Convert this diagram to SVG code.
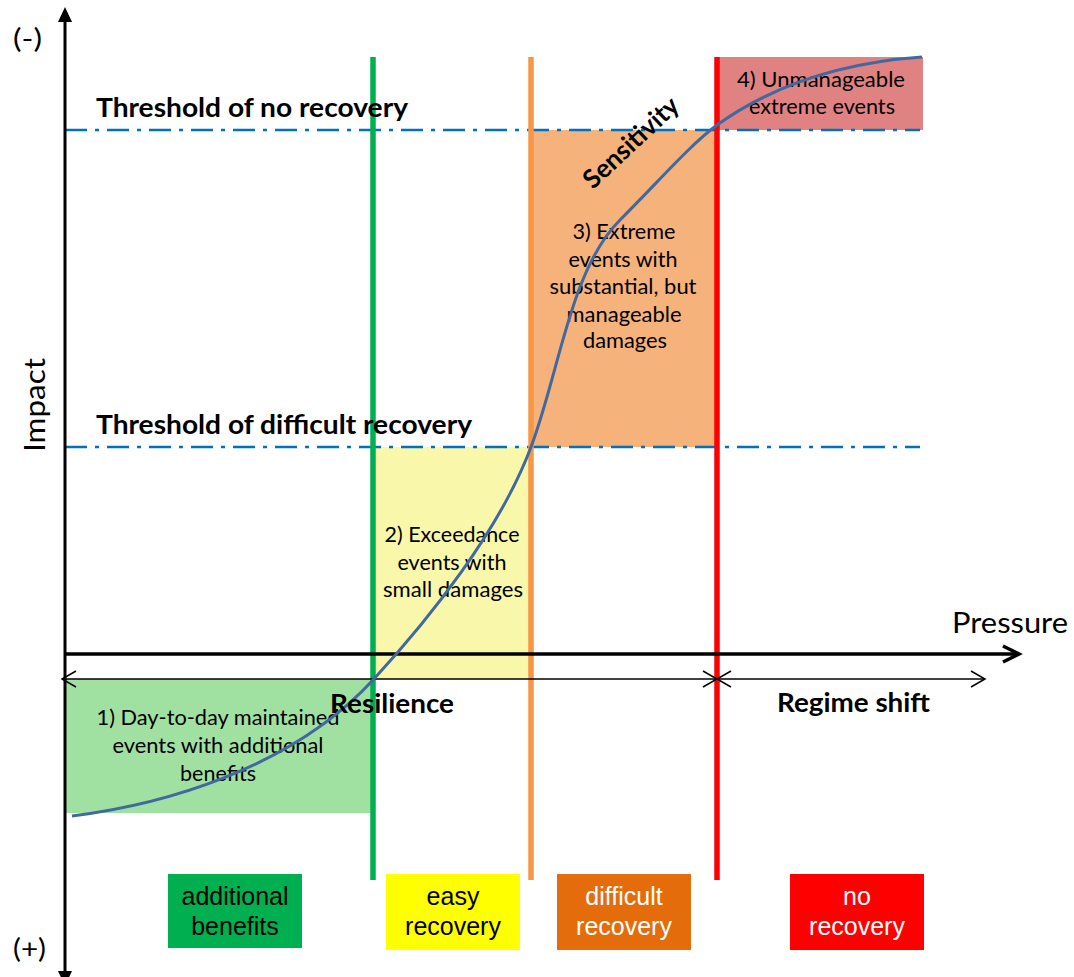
<svg xmlns="http://www.w3.org/2000/svg" width="1074" height="977" viewBox="0 0 1074 977">
<defs>
<style>
.t{font-family:Lato,"Open Sans","Liberation Sans",sans-serif;fill:#000}
.b{font-weight:bold;font-size:26px}
.r{font-size:21px;text-anchor:middle}
.box{font-family:"Liberation Sans",Arial,sans-serif;font-size:25px;text-anchor:middle}
.thr{stroke:#0070C0;stroke-width:2.5;stroke-dasharray:22 8 4 8;fill:none}
.vl{stroke-width:5.5;fill:none}
.ax{stroke:#000;fill:none}
</style>
</defs>
<rect width="1074" height="977" fill="#fff"/>
<g id="regions">
<rect id="region1" x="65" y="679" width="308" height="134" fill="#A0E0A0"/>
<rect id="region2" x="373" y="447" width="158" height="232" fill="#F9F7AA"/>
<rect id="region3" x="531" y="130" width="186" height="317" fill="#F6B27B"/>
<rect id="region4" x="717" y="57" width="206" height="73" fill="#E08282"/>
</g>
<g id="thresholds">
<line class="thr" x1="65" y1="130" x2="920" y2="130"/>
<line class="thr" x1="65" y1="447" x2="920" y2="447"/>
</g>
<g id="dividers">
<line class="vl" x1="373" y1="57" x2="373" y2="880" stroke="#00B050"/>
<line class="vl" x1="531" y1="57" x2="531" y2="880" stroke="#F79646"/>
<line class="vl" x1="717" y1="57" x2="717" y2="880" stroke="#FF0000"/>
</g>
<g id="region-labels" class="t">
<text class="r" x="821" y="87" textLength="168" lengthAdjust="spacingAndGlyphs">4) Unmanageable</text>
<text class="r" x="822" y="114" textLength="146" lengthAdjust="spacingAndGlyphs">extreme events</text>
<text class="r" x="624" y="239" textLength="103" lengthAdjust="spacingAndGlyphs">3) Extreme</text>
<text class="r" x="623" y="267" textLength="109" lengthAdjust="spacingAndGlyphs">events with</text>
<text class="r" x="623" y="294" textLength="147" lengthAdjust="spacingAndGlyphs">substantial, but</text>
<text class="r" x="624" y="322" textLength="115" lengthAdjust="spacingAndGlyphs">manageable</text>
<text class="r" x="625" y="348" textLength="84" lengthAdjust="spacingAndGlyphs">damages</text>
<text class="r" x="452" y="542" textLength="135" lengthAdjust="spacingAndGlyphs">2) Exceedance</text>
<text class="r" x="452" y="570" textLength="109" lengthAdjust="spacingAndGlyphs">events with</text>
<text class="r" x="453" y="597" textLength="140" lengthAdjust="spacingAndGlyphs">small damages</text>
<text class="r" x="218" y="725" textLength="243" lengthAdjust="spacingAndGlyphs">1) Day-to-day maintained</text>
<text class="r" x="218" y="753" textLength="211" lengthAdjust="spacingAndGlyphs">events with additional</text>
<text class="r" x="218" y="781" textLength="76" lengthAdjust="spacingAndGlyphs">benefits</text>
</g>
<g id="connectors">
<line class="ax" x1="65" y1="20" x2="65" y2="972" stroke-width="3"/>
<path d="M58,22 L65,7 L72,22 Z" fill="#000"/>
<path d="M58,971 L65,986 L72,971 Z" fill="#000"/>
<line class="ax" x1="65" y1="654" x2="1017" y2="654" stroke-width="3.5"/>
<path class="ax" d="M1003,646 L1019,654 L1003,662" stroke-width="3.5"/>
<line class="ax" x1="62" y1="679" x2="985" y2="679" stroke-width="1.5"/>
<path class="ax" d="M76,671 L62,679 L76,687" stroke-width="1.5"/>
<path class="ax" d="M703,671 L717,679 L703,687" stroke-width="1.5"/>
<path class="ax" d="M731,671 L717,679 L731,687" stroke-width="1.5"/>
<path class="ax" d="M971,671 L985,679 L971,687" stroke-width="1.5"/>
</g>
<g id="curve">
<path d="M72,816 C160,805 290,770 373,680 C430,618 500,530 531,447 C560,370 570,270 620,220 C660,180 690,145 717,125 C780,80 850,62 922,57" fill="none" stroke="#41699F" stroke-width="3"/>
</g>
<g id="axis-labels" class="t">
<text x="13" y="48" font-size="26" textLength="29" lengthAdjust="spacingAndGlyphs">(-)</text>
<text x="13" y="958" font-size="26" textLength="33" lengthAdjust="spacingAndGlyphs">(+)</text>
<text x="1010" y="633" font-size="28" text-anchor="middle" textLength="116" lengthAdjust="spacingAndGlyphs">Pressure</text>
<text transform="translate(45,405) rotate(-90)" font-size="28" text-anchor="middle" textLength="94" lengthAdjust="spacingAndGlyphs">Impact</text>
<text class="b" x="96" y="117" textLength="312" lengthAdjust="spacingAndGlyphs">Threshold of no recovery</text>
<text class="b" x="96" y="434" textLength="376" lengthAdjust="spacingAndGlyphs">Threshold of difficult recovery</text>
<text class="b" x="330" y="713" textLength="124" lengthAdjust="spacingAndGlyphs">Resilience</text>
<text class="b" x="777" y="712" textLength="153" lengthAdjust="spacingAndGlyphs">Regime shift</text>
<text class="b" transform="translate(637,149) rotate(-43)" text-anchor="middle" font-size="25" textLength="120" lengthAdjust="spacingAndGlyphs">Sensitivity</text>
</g>
<g id="legend-additional-benefits">
<rect x="168" y="874" width="134" height="74" fill="#00B050"/>
<text class="box" x="235" y="905" fill="#000">additional</text>
<text class="box" x="235" y="935" fill="#000">benefits</text>
</g>
<g id="legend-easy-recovery">
<rect x="386" y="874" width="134" height="76" fill="#FFFF00"/>
<text class="box" x="453" y="905" fill="#000">easy</text>
<text class="box" x="453" y="935" fill="#000">recovery</text>
</g>
<g id="legend-difficult-recovery">
<rect x="557" y="874" width="134" height="76" fill="#E46C0A"/>
<text class="box" x="624" y="905" fill="#fff">difficult</text>
<text class="box" x="624" y="935" fill="#fff">recovery</text>
</g>
<g id="legend-no-recovery">
<rect x="790" y="874" width="134" height="76" fill="#FF0000"/>
<text class="box" x="857" y="905" fill="#fff">no</text>
<text class="box" x="857" y="935" fill="#fff">recovery</text>
</g>
</svg>
